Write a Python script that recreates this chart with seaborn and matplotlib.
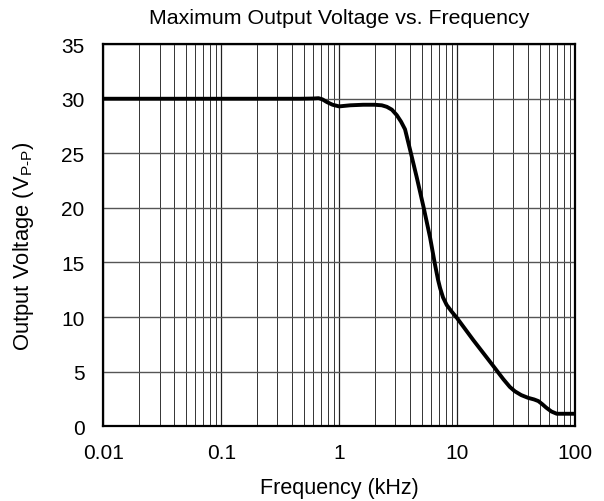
import pandas as pd
import matplotlib
matplotlib.use('Agg')
import matplotlib.pyplot as plt
import seaborn as sns
from matplotlib.ticker import LogLocator, NullFormatter, FixedLocator

# Data (frequency in kHz, output in Vp-p)
freq_khz = [0.01, 0.05, 0.2, 0.467, 0.6, 0.668, 0.72, 0.786, 0.88, 1.0, 1.24, 1.6, 2.0,
            2.3, 2.54, 2.8, 3.08, 3.35, 3.62, 4.0, 4.55, 5.19, 5.9, 6.5, 6.9, 7.18,
            7.6, 8.17, 9.0, 10.0, 13.7, 20.0, 24.7, 28.0, 30.9, 35.0, 40.0, 45.0,
            48.9, 53.0, 57.0, 63.0, 70.0, 100.0]
vout_pp = [30.0, 30.0, 30.0, 30.0, 30.02, 30.05, 29.95, 29.7, 29.45, 29.3, 29.4, 29.45, 29.45,
           29.4, 29.26, 29.0, 28.5, 27.9, 27.2, 25.3, 22.8, 20.1, 17.3, 14.8, 13.4, 12.65,
           11.8, 11.1, 10.5, 9.9, 7.9, 5.6, 4.3, 3.6, 3.2, 2.85, 2.6, 2.45,
           2.3, 2.0, 1.7, 1.35, 1.14, 1.14]

df = pd.DataFrame({'freq': freq_khz, 'vout': vout_pp})

sns.set_style('white')
plt.rcParams['font.family'] = ['Liberation Sans', 'DejaVu Sans']
plt.rcParams['text.color'] = 'black'
plt.rcParams['axes.labelcolor'] = 'black'

fig = plt.figure(figsize=(6.04, 5.02), dpi=100)
ax = fig.add_axes([0.171, 0.149, 0.781, 0.761])

sns.lineplot(data=df, x='freq', y='vout', ax=ax, color='black', linewidth=2.8)

ax.set_xscale('log')
ax.set_xlim(0.01, 100)
ax.set_ylim(0, 35)
ax.xaxis.set_major_locator(FixedLocator([0.01, 0.1, 1, 10, 100]))
ax.set_xticklabels(['0.01', '0.1', '1', '10', '100'])
ax.xaxis.set_minor_locator(LogLocator(base=10, subs=range(2, 10)))
ax.xaxis.set_minor_formatter(NullFormatter())
ax.set_yticks(range(0, 36, 5))

ax.grid(True, which='major', axis='x', color='#222222', linewidth=0.9)
ax.grid(True, which='minor', axis='x', color='#333333', linewidth=0.7)
ax.grid(True, which='major', axis='y', color='#555555', linewidth=1.0)
ax.set_axisbelow(True)

for s in ax.spines.values():
    s.set_color('black')
    s.set_linewidth(1.6)

ax.tick_params(axis='both', which='both', length=0, labelsize=15, colors='black')
ax.tick_params(axis='x', pad=12)
ax.tick_params(axis='y', pad=13.5)
ax.set_title('Maximum Output Voltage vs. Frequency', fontsize=15.4, pad=15, color='black')
ax.set_xlabel('Frequency (kHz)', fontsize=15.5, labelpad=11)
ax.set_ylabel('Output Voltage (V$_{\\mathregular{P\u2010P}}$)', fontsize=15.8)
ax.yaxis.set_label_coords(-0.142, 0.4725)

fig.savefig('out.png', dpi=100)
